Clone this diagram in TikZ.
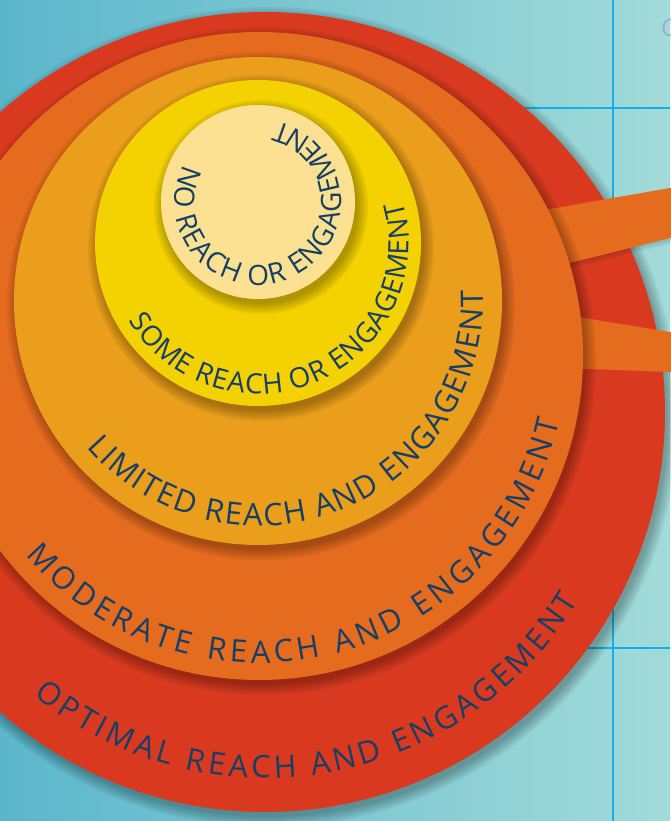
\documentclass[tikz,border=0pt]{standalone}
\usepackage{fontspec}
\setmainfont{Open Sans}
\usepackage{xcolor}
\usetikzlibrary{decorations.text}

\definecolor{skyleft}{HTML}{5BB6CB}
\definecolor{skyright}{HTML}{A2DBD9}
\definecolor{gridblue}{HTML}{14AEEA}
\definecolor{ringred}{HTML}{D93A1F}
\definecolor{ringorange}{HTML}{E56B1F}
\definecolor{ringamber}{HTML}{EA9E1B}
\definecolor{ringyellow}{HTML}{F4D100}
\definecolor{ringpale}{HTML}{FDE192}
\definecolor{labelnavy}{HTML}{173F66}
\definecolor{cornergray}{HTML}{A9AACB}

\newcommand\ringfont{\fontsize{31}{37}\selectfont}
\newcommand\corefont{\fontsize{28}{34}\selectfont}

\begin{document}
\begin{tikzpicture}[x=1pt,y=1pt,
  ringshade/.style={fill=black,fill opacity=0.05},
  ringlabel/.style={decorate,decoration={text along path,text align=fit to path,text color=labelnavy,text={#1}}}]
\useasboundingbox (0,0) rectangle (670,821);
\shade[left color=skyleft,right color=skyright] (0,0) rectangle (670,821);
% grid
\draw[gridblue,line width=2] (613,0) -- (613,821);
\draw[gridblue,line width=2] (500,713) -- (670,713);
\draw[gridblue,line width=2] (500,173) -- (670,173);
\node[text=cornergray,anchor=west,inner sep=0pt,font=\fontsize{24}{28}\selectfont] (corner) at (661,793) {C};
% centres
\coordinate (optimal) at (265,409);
\coordinate (moderate) at (259,465);
\coordinate (limited) at (258,520);
\coordinate (some) at (258,578);
\coordinate (none) at (258,619);
% outer disc and arms
\foreach \k in {0,...,5} \fill[ringshade] ([shift={(3,-5)}]optimal) circle ({400+2*\k});
\fill[ringred] (optimal) circle (400);
\foreach \k in {1,...,3} \fill[ringshade] ([shift={(0,-2*\k)}]520,606.75) -- ++(160,28) -- ++(0,-49.25) -- (520,{545.5-2*\k}) -- cycle;
\fill[ringorange] (520,606.75) -- (680,634.75) -- (680,585.5) -- (520,545.5) -- cycle;
\fill[ringorange] (520,513.4) -- (680,487.4) -- (680,448.6) -- (520,454.6) -- cycle;
% inner discs
\foreach \c/\r/\col in {moderate/324/ringorange,limited/244/ringamber,some/163/ringyellow,none/97/ringpale}{
  \foreach \k in {0,...,5} \fill[ringshade] ([shift={(3,-5)}]\c) circle ({\r+2*\k});
  \fill[\col] (\c) circle (\r);
}
% labels
\path[ringlabel={|\ringfont|OPTIMAL REACH AND ENGAGEMENT}] ([shift={(230.8:366)}]optimal) arc[start angle=230.8,end angle=329,radius=366];
\path[ringlabel={|\ringfont|MODERATE REACH AND ENGAGEMENT}] ([shift={(220.5:307)}]moderate) arc[start angle=220.5,end angle=347.8,radius=307];
\path[ringlabel={|\ringfont|LIMITED REACH AND ENGAGEMENT}] ([shift={(220.5:225)}]limited) arc[start angle=220.5,end angle=362.8,radius=225];
\path[ringlabel={|\corefont|SOME REACH OR ENGAGEMENT}] ([shift={(211:151)}]some) arc[start angle=211,end angle=375.8,radius=151];
\path[ringlabel={|\corefont|NO REACH OR ENGAGEMENT}] ([shift={(153:83)}]none) arc[start angle=153,end angle=436,radius=83];
\end{tikzpicture}
\end{document}
